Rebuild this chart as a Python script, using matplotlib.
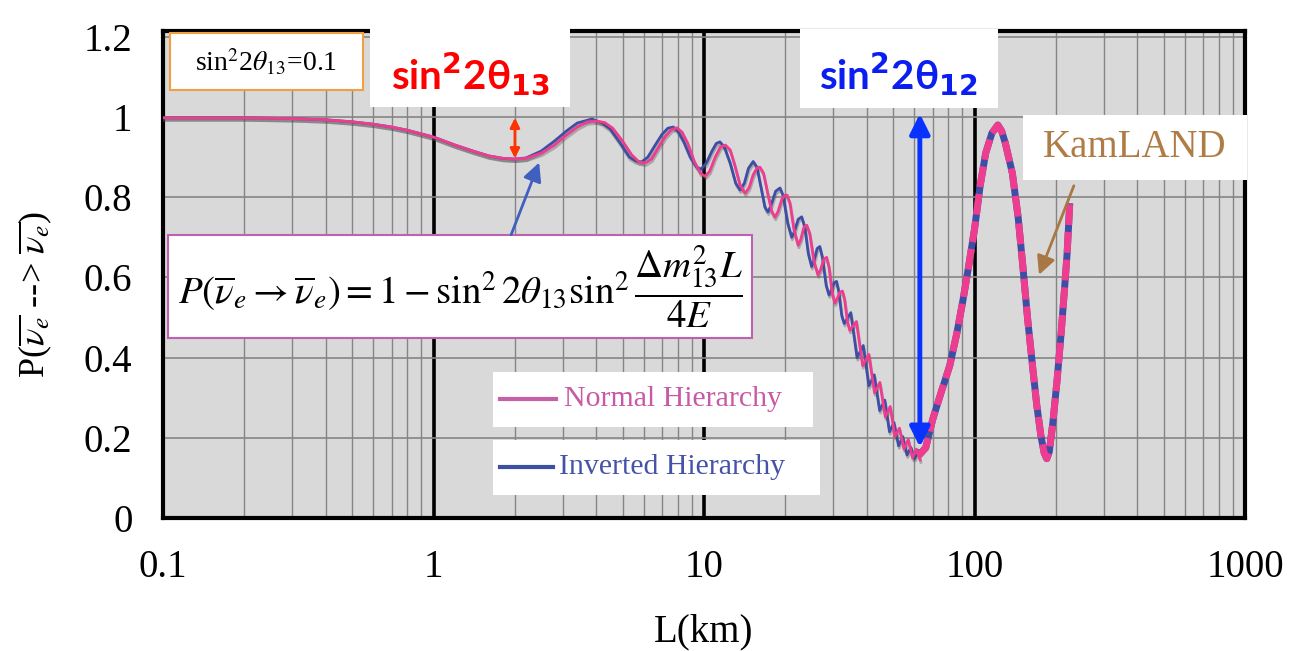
import matplotlib
matplotlib.use("Agg")
import matplotlib.pyplot as plt
import matplotlib.patheffects as pe
from matplotlib.patches import Rectangle
from matplotlib.ticker import FixedLocator, LogLocator, NullFormatter

plt.rcParams["font.family"] = ["Liberation Serif", "DejaVu Serif"]
plt.rcParams["mathtext.fontset"] = "stix"

# where both hierarchies overlap (short baselines)
common_L = [0.1, 0.2, 0.3, 0.4, 0.5, 0.6, 0.7, 0.8, 0.9, 1.0, 1.2, 1.4, 1.6, 1.8, 2.0]
common_P = [0.998, 0.998, 0.996, 0.993, 0.988, 0.982, 0.975, 0.967, 0.958, 0.95,
            0.93, 0.915, 0.903, 0.897, 0.895]

# normal hierarchy
nh_L = [2.2, 2.5, 2.8, 3.1, 3.4, 3.7, 4.0, 4.3, 4.6, 5.0, 5.4, 5.75, 6.05, 6.4, 6.8,
        7.2, 7.6, 7.95, 8.3, 8.7, 9.2, 9.7, 10.1, 10.5, 11.0, 11.5, 12.0, 12.5, 13.0,
        13.6, 14.2, 14.7, 15.2, 15.7, 16.1, 16.6, 17.2, 17.8, 18.3, 18.8, 19.4, 19.9,
        20.3, 20.8, 21.5, 22.3, 22.8, 23.4, 24.0, 24.6, 25.5, 26.4, 27.0, 27.7, 28.4,
        29.0, 29.8, 30.5, 31.1, 31.8, 32.5, 33.1, 33.9, 34.6, 36.6, 38.6, 40.7, 42.7,
        44.7, 46.8, 48.8, 50.8, 52.8, 54.9, 56.9, 59.0, 61.0, 63.0]
nh_P = [0.897, 0.91, 0.93, 0.955, 0.975, 0.988, 0.99, 0.986, 0.972, 0.94, 0.906, 0.888,
        0.885, 0.895, 0.925, 0.952, 0.969, 0.973, 0.962, 0.935, 0.89, 0.86, 0.852, 0.865,
        0.9, 0.925, 0.93, 0.918, 0.88, 0.83, 0.81, 0.825, 0.856, 0.873, 0.875, 0.86, 0.81,
        0.765, 0.75, 0.765, 0.795, 0.805, 0.805, 0.785, 0.72, 0.68, 0.695, 0.725, 0.73,
        0.71, 0.64, 0.606, 0.62, 0.645, 0.65, 0.625, 0.56, 0.536, 0.548, 0.563, 0.566,
        0.545, 0.49, 0.468, 0.49, 0.38, 0.408, 0.312, 0.338, 0.252, 0.278, 0.203, 0.224,
        0.172, 0.196, 0.15, 0.172, 0.145]

# inverted hierarchy
ih_L = [2.2, 2.5, 2.8, 3.1, 3.4, 3.85, 4.2, 4.5, 4.9, 5.3, 5.6, 5.88, 6.2, 6.6, 7.0,
        7.35, 7.7, 8.0, 8.4, 8.9, 9.4, 9.75, 10.2, 10.7, 11.1, 11.45, 11.9, 12.5, 13.1,
        13.6, 14.1, 14.6, 15.2, 15.7, 16.3, 16.8, 17.25, 17.7, 18.4, 19.1, 19.6, 20.4,
        21.1, 21.6, 22.3, 22.97, 23.6, 24.3, 25.0, 25.6, 26.2, 26.8, 27.4, 28.3, 29.0,
        29.6, 30.3, 30.9, 31.5, 32.3, 33.0, 34.9, 36.8, 38.8, 40.7, 42.6, 44.6, 46.6,
        48.5, 50.4, 52.4, 54.3, 56.3, 58.2, 60.1, 62.0]
ih_P = [0.898, 0.915, 0.94, 0.965, 0.985, 0.995, 0.985, 0.97, 0.935, 0.9, 0.89, 0.888,
        0.9, 0.93, 0.957, 0.972, 0.975, 0.965, 0.94, 0.9, 0.875, 0.87, 0.885, 0.915,
        0.934, 0.938, 0.925, 0.885, 0.835, 0.818, 0.835, 0.872, 0.889, 0.875, 0.82, 0.775,
        0.763, 0.78, 0.815, 0.823, 0.805, 0.735, 0.7, 0.715, 0.745, 0.751, 0.725, 0.66,
        0.627, 0.645, 0.672, 0.677, 0.65, 0.58, 0.556, 0.57, 0.587, 0.59, 0.565, 0.505,
        0.485, 0.512, 0.4, 0.43, 0.33, 0.357, 0.268, 0.294, 0.215, 0.238, 0.18, 0.203,
        0.157, 0.176, 0.148, 0.168]

# long baselines: both hierarchies blur into one thick band
kamland_L = [62.0, 66.0, 70.0, 75.0, 81.0, 86.0, 90.7, 95.0, 100.0, 105.0, 110.0, 116.0,
             122.0, 126.0, 130.0, 138.0, 145.0, 151.0, 157.0, 164.0, 170.0, 176.0, 181.0,
             185.0, 189.0, 195.0, 202.0, 209.0, 216.0, 220.0, 225.0]
kamland_P = [0.155, 0.175, 0.245, 0.31, 0.38, 0.46, 0.544, 0.625, 0.72, 0.83, 0.91, 0.96,
             0.98, 0.965, 0.935, 0.86, 0.75, 0.626, 0.5, 0.377, 0.28, 0.205, 0.162, 0.148,
             0.165, 0.24, 0.344, 0.46, 0.586, 0.66, 0.785]

x_ticks = [0.1, 1, 10, 100, 1000]
x_tick_labels = ["0.1", "1", "10", "100", "1000"]
y_ticks = [0, 0.2, 0.4, 0.6, 0.8, 1.0, 1.2]
y_tick_labels = ["0", "0.2", "0.4", "0.6", "0.8", "1", "1.2"]

PINK = "#ee3d8f"
BLUE = "#3d4ea6"

fig = plt.figure(figsize=(12.91, 6.51), dpi=100)
ax = fig.add_axes([163 / 1291, 1 - 518 / 651, 1082 / 1291, 487 / 651])
ax.set_facecolor("#d9d9d9")
ax.set_xscale("log")
ax.set_xlim(0.1, 1000)
ax.set_ylim(0, 1.2145)

ax.xaxis.set_major_locator(FixedLocator(x_ticks))
ax.set_xticklabels(x_tick_labels)
ax.xaxis.set_minor_locator(LogLocator(base=10, subs=range(2, 10)))
ax.xaxis.set_minor_formatter(NullFormatter())
ax.set_yticks(y_ticks)
ax.set_yticklabels(y_tick_labels)
ax.tick_params(which="both", length=0)
ax.tick_params(axis="x", labelsize=28, pad=22)
ax.tick_params(axis="y", labelsize=28, pad=22)

ax.set_axisbelow(True)
ax.grid(True, which="minor", axis="x", color="#858585", lw=1.0)
ax.grid(True, which="major", axis="x", color="black", lw=2.6)
ax.grid(True, which="major", axis="y", color="#858585", lw=1.2)
for sp in ax.spines.values():
    sp.set_linewidth(3)

shadow = [pe.SimpleLineShadow(offset=(0.5, -1.8), shadow_color="0.3", alpha=0.35), pe.Normal()]
ax.plot(common_L + ih_L, common_P + ih_P, color=BLUE, lw=2.0, path_effects=shadow, zorder=3)
ax.plot(common_L + nh_L, common_P + nh_P, color=PINK, lw=2.0, path_effects=shadow, zorder=4)
ax.plot(kamland_L, kamland_P, color=BLUE, lw=5.0, zorder=3, solid_capstyle="butt")
ax.plot(kamland_L, kamland_P, color=PINK, lw=5.0, dashes=(3, 1), zorder=4)

tr = ax.transAxes

# sin^2 2theta13 = 0.1 box
ax.add_patch(Rectangle((0.0065, 0.879), 0.178, 0.117, transform=tr, facecolor="white",
                       edgecolor="#f0a040", lw=1.5, zorder=6))
ax.text(0.095, 0.936, r"sin$^2$2$\theta_{13}$=0.1", transform=tr, fontsize=20,
        ha="center", va="center", zorder=7)

# red label + double arrow
ax.add_patch(Rectangle((0.191, 0.844), 0.185, 0.162, transform=tr, facecolor="white",
                       edgecolor="none", zorder=6, clip_on=False))
ax.text(0.284, 0.912, r"sin$^{\mathbf{2}}$2θ$_{\mathbf{13}}$", transform=tr, fontsize=29,
        color="#ff0000", fontweight="bold", family=["Lato", "DejaVu Sans"],
        math_fontfamily="dejavusans", ha="center", va="center", zorder=7)
ax.annotate("", xy=(2.0, 0.89), xytext=(2.0, 1.005),
            arrowprops=dict(arrowstyle="<|-|>", color="#ff3300", lw=2, mutation_scale=14),
            zorder=7)

# formula box + arrow
ax.annotate("", xy=(2.48, 0.893), xytext=(1.92, 0.70),
            arrowprops=dict(arrowstyle="-|>", color="#4060c0", lw=2, mutation_scale=28),
            zorder=7)
ax.add_patch(Rectangle((0.0046, 0.370), 0.540, 0.211, transform=tr, facecolor="white",
                       edgecolor="#c060b0", lw=1.5, zorder=6))
ax.text(0.2745, 0.475,
        r"$P\left(\overline{\nu}_e \rightarrow \overline{\nu}_e\right) = 1 - \sin^2 2\theta_{13}\sin^2\dfrac{\Delta m_{13}^2 L}{4E}$",
        transform=tr, fontsize=28, ha="center", va="center", zorder=7)

# legend boxes
ax.add_patch(Rectangle((0.305, 0.187), 0.296, 0.113, transform=tr, facecolor="white",
                       edgecolor="none", zorder=6))
ax.add_patch(Rectangle((0.305, 0.047), 0.302, 0.113, transform=tr, facecolor="white",
                       edgecolor="none", zorder=6))
ax.plot([0.311, 0.363], [0.244, 0.244], transform=tr, color="#c860a8", lw=3, zorder=7)
ax.plot([0.311, 0.360], [0.105, 0.105], transform=tr, color="#3c4fa0", lw=3, zorder=7)
ax.text(0.371, 0.244, "Normal Hierarchy", transform=tr, fontsize=21.5, color="#c85aa5",
        ha="left", va="center", zorder=7)
ax.text(0.366, 0.105, "Inverted Hierarchy", transform=tr, fontsize=21.5, color="#4552a8",
        ha="left", va="center", zorder=7)

# blue label + double arrow
ax.add_patch(Rectangle((0.5887, 0.842), 0.183, 0.162, transform=tr, facecolor="white",
                       edgecolor="none", zorder=6, clip_on=False))
ax.text(0.680, 0.912, r"sin$^{\mathbf{2}}$2θ$_{\mathbf{12}}$", transform=tr, fontsize=29,
        color="#0a1ef0", fontweight="bold", family=["Lato", "DejaVu Sans"],
        math_fontfamily="dejavusans", ha="center", va="center", zorder=7)
ax.annotate("", xy=(62.8, 0.17), xytext=(62.8, 1.015),
            arrowprops=dict(arrowstyle="<|-|>", color="#0a32ff", lw=3.5, mutation_scale=30),
            zorder=7)

# KamLAND label
ax.add_patch(Rectangle((0.795, 0.694), 0.207, 0.134, transform=tr, facecolor="white",
                       edgecolor="none", zorder=6, clip_on=False))
ax.text(0.898, 0.760, "KamLAND", transform=tr, fontsize=28, color="#b07c46",
        ha="center", va="center", zorder=7)
ax.annotate("", xy=(171.7, 0.60), xytext=(235, 0.835),
            arrowprops=dict(arrowstyle="-|>", color="#a87844", lw=2, mutation_scale=28),
            zorder=7)

fig.text(35 / 1291, 1 - 295 / 651, r"P($\overline{\nu_e}$ --> $\overline{\nu_e}$)",
         rotation=90, fontsize=26, ha="center", va="center")
fig.text(704 / 1291, 1 - 632 / 651, "L(km)", fontsize=28, ha="center", va="center")

fig.savefig("out.png", dpi=100)
